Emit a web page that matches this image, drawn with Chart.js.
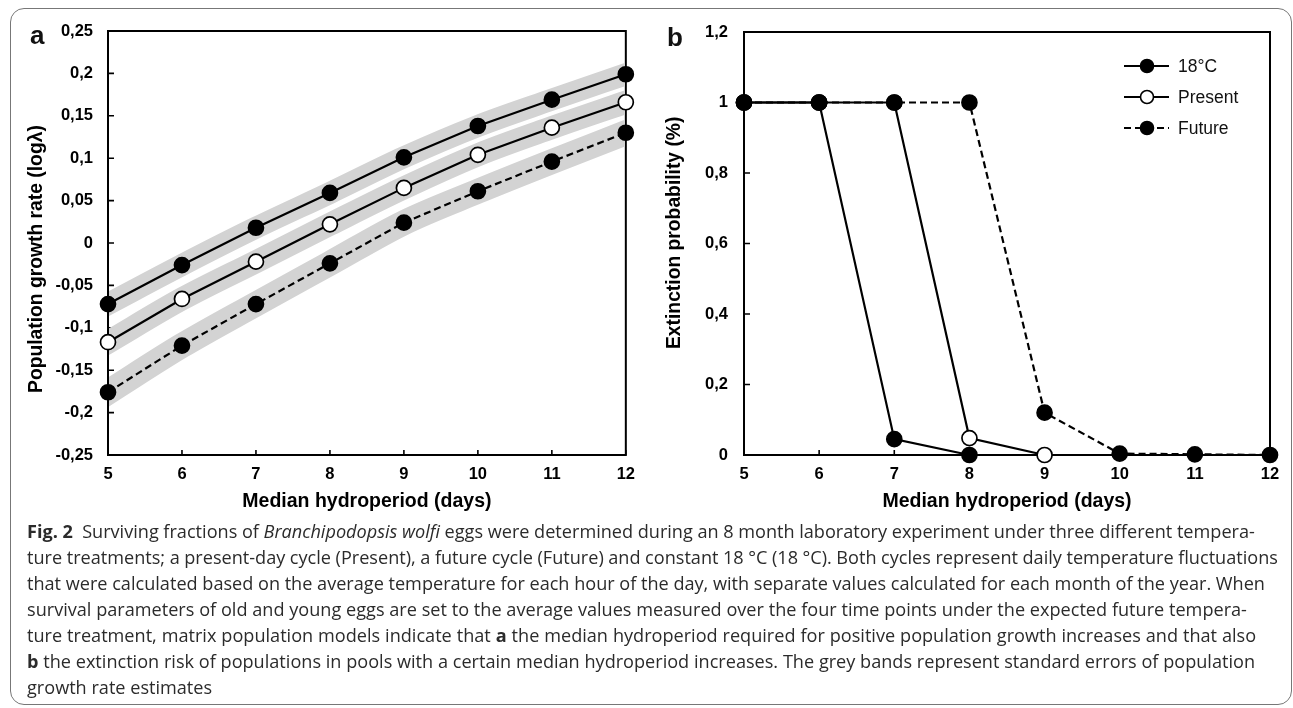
<!DOCTYPE html>
<html>
<head>
<meta charset="utf-8">
<script src="https://cdn.jsdelivr.net/npm/chart.js@4.4.1/dist/chart.umd.min.js"></script>
<style>
  html, body { margin: 0; padding: 0; background: #fff; }
  body { width: 1293px; height: 708px; position: relative; overflow: hidden; font-family: 'Liberation Sans', Arial, sans-serif; }
  .frame { position: absolute; left: 10px; top: 8px; width: 1282px; height: 697px; border: 1.5px solid #777; border-radius: 14px; box-sizing: border-box; }
  .panel { position: absolute; top: 0; height: 520px; }
  #wrapA { left: 0; width: 645px; }
  #wrapB { left: 645px; width: 648px; }
  .tag { position: absolute; font-weight: bold; font-size: 26px; line-height: 1; color: #111; }
  #caption { position: absolute; left: 27px; top: 518px; font-family: 'Open Sans', 'Noto Sans', sans-serif; font-size: 17px; color: #2b2b2b; }
  #caption div { height: 26px; line-height: 26px; white-space: nowrap; }
</style>
</head>
<body>
<div class="frame"></div>
<div class="panel" id="wrapA"><canvas id="chartA"></canvas></div>
<div class="panel" id="wrapB"><canvas id="chartB"></canvas></div>
<div class="tag" style="left:30px; top:22px;">a</div>
<div class="tag" style="left:667px; top:24px;">b</div>
<div id="caption">
  <div><span><b>Fig. 2</b>&nbsp; Surviving fractions of <i>Branchipodopsis wolfi</i> eggs were determined during an 8 month laboratory experiment under three different tempera-</span></div>
  <div><span>ture treatments; a present-day cycle (Present), a future cycle (Future) and constant 18 °C (18 °C). Both cycles represent daily temperature fluctuations</span></div>
  <div><span>that were calculated based on the average temperature for each hour of the day, with separate values calculated for each month of the year. When</span></div>
  <div><span>survival parameters of old and young eggs are set to the average values measured over the four time points under the expected future tempera-</span></div>
  <div><span>ture treatment, matrix population models indicate that <b>a</b> the median hydroperiod required for positive population growth increases and that also</span></div>
  <div><span><b>b</b> the extinction risk of populations in pools with a certain median hydroperiod increases. The grey bands represent standard errors of population</span></div>
  <div><span>growth rate estimates</span></div>
</div>
<script>
// Data
const days = [5, 6, 7, 8, 9, 10, 11, 12];

// panel a: population growth rate (log lambda)
const growth18 = [-0.072, -0.026, 0.018, 0.059, 0.101, 0.138, 0.169, 0.199];
const growthPresent = [-0.117, -0.066, -0.022, 0.022, 0.065, 0.104, 0.136, 0.166];
const growthFuture = [-0.176, -0.121, -0.072, -0.024, 0.024, 0.061, 0.096, 0.130];
const yTickLabelsA = ['-0,25', '-0,2', '-0,15', '-0,1', '-0,05', '0', '0,05', '0,1', '0,15', '0,2', '0,25'];

// panel b: extinction probability
const ext18 = [1, 1, 0.045, 0, null, null, null, null];
const extPresent = [1, 1, 1, 0.048, 0, null, null, null];
const extFuture = [1, 1, 1, 1, 0.12, 0.004, 0.002, 0];
const yTickLabelsB = ['0', '0,2', '0,4', '0,6', '0,8', '1', '1,2'];
const legendNames = ['18°C', 'Present', 'Future'];

Chart.defaults.font.family = "'Liberation Sans', Arial, sans-serif";
Chart.defaults.color = '#000';
Chart.defaults.animation = false;

// box around the plot area + short inward tick marks
const frameTicks = {
  id: 'frameTicks',
  beforeDatasetsDraw(chart) {
    const { ctx, chartArea: a, scales: { x, y } } = chart;
    ctx.save();
    ctx.strokeStyle = '#000';
    ctx.lineWidth = 2;
    ctx.strokeRect(a.left, a.top, a.right - a.left, a.bottom - a.top);
    ctx.lineWidth = 1.6;
    ctx.beginPath();
    x.ticks.forEach((t, i) => {
      const px = x.getPixelForTick(i);
      ctx.moveTo(px, a.bottom);
      ctx.lineTo(px, a.bottom - 5);
    });
    y.ticks.forEach((t, i) => {
      const py = y.getPixelForTick(i);
      ctx.moveTo(a.left, py);
      ctx.lineTo(a.left + 6, py);
    });
    ctx.stroke();
    ctx.restore();
  }
};

// legend of panel b (line + marker)
const legendB = {
  id: 'legendB',
  afterDraw(chart) {
    const ctx = chart.ctx;
    legendNames.forEach((name, i) => {
      const ds = chart.data.datasets.find(d => d.label === name);
      const y = 66 + i * 31;
      ctx.save();
      ctx.strokeStyle = '#000';
      ctx.lineWidth = 2;
      ctx.setLineDash(ds.borderDash || []);
      ctx.beginPath();
      ctx.moveTo(479, y);
      ctx.lineTo(524, y);
      ctx.stroke();
      ctx.setLineDash([]);
      ctx.beginPath();
      ctx.arc(502, y, 6.5, 0, Math.PI * 2);
      ctx.fillStyle = ds.pointBackgroundColor;
      ctx.fill();
      ctx.lineWidth = 1.6;
      ctx.stroke();
      ctx.fillStyle = '#111';
      ctx.font = "17.5px 'Liberation Sans', Arial, sans-serif";
      ctx.textBaseline = 'middle';
      ctx.fillText(name, 533, y + 1);
      ctx.restore();
    });
  }
};

function series(label, data, fill, dashed, order) {
  return {
    label: label,
    data: data,
    borderColor: '#000',
    borderWidth: 2.2,
    borderDash: dashed ? [7, 4] : [],
    pointRadius: 7.5,
    pointBorderWidth: 1.7,
    pointBackgroundColor: fill,
    pointBorderColor: '#000',
    tension: 0,
    spanGaps: false,
    clip: false,
    order: order
  };
}

function band(data, width) {
  return {
    label: 'band',
    data: data,
    borderColor: '#d3d3d3',
    borderWidth: width,
    borderCapStyle: 'square',
    pointRadius: 0,
    cubicInterpolationMode: 'monotone',
    clip: { left: -1, right: -1, top: -1, bottom: -1 },
    order: 10
  };
}

function axes(yMin, yMax, yStep, yLabels, yTitle, yWidth, yTickPad, yTitlePad) {
  return {
    x: {
      offset: false,
      grid: { display: false, drawTicks: false },
      border: { display: false },
      ticks: { padding: 10, font: { size: 16.5, weight: 'bold' }, maxRotation: 0 },
      title: { display: true, text: 'Median hydroperiod (days)', font: { size: 19.5, weight: 'bold' }, padding: { top: 0, bottom: 7 } },
      afterFit: s => { s.height = 65; }
    },
    y: {
      min: yMin, max: yMax,
      grid: { display: false, drawTicks: false },
      border: { display: false },
      ticks: { stepSize: yStep, padding: yTickPad, font: { size: 16.5, weight: 'bold' }, callback: (v, i) => yLabels[i] },
      title: { display: true, text: yTitle, font: { size: 19.3, weight: 'bold' }, padding: { top: yTitlePad, bottom: 0 } },
      afterFit: s => { s.width = yWidth; }
    }
  };
}

// rotated titles sit a little off-centre in the original; spaces nudge them
const titleA = 'Population growth rate (logλ)' + '\u00a0'.repeat(6);
const titleB = '\u00a0'.repeat(4) + 'Extinction probability (%)';

new Chart(document.getElementById('chartA'), {
  type: 'line',
  data: {
    labels: days,
    datasets: [
      series('18°C', growth18, '#000', false, 0),
      series('Present', growthPresent, '#fff', false, 1),
      series('Future', growthFuture, '#000', true, 2),
      band(growth18, 22),
      band(growthPresent, 23),
      band(growthFuture, 25)
    ]
  },
  options: {
    responsive: true,
    maintainAspectRatio: false,
    layout: { padding: { top: 31, right: 13, left: 0, bottom: 0 } },
    plugins: { legend: { display: false }, tooltip: { enabled: false } },
    scales: axes(-0.25, 0.25, 0.05, yTickLabelsA, titleA, 108, 15, 25)
  },
  plugins: [frameTicks]
});

new Chart(document.getElementById('chartB'), {
  type: 'line',
  data: {
    labels: days,
    datasets: [
      series('Future', extFuture, '#000', true, 0),
      series('18°C', ext18, '#000', false, 1),
      series('Present', extPresent, '#fff', false, 2)
    ]
  },
  options: {
    responsive: true,
    maintainAspectRatio: false,
    layout: { padding: { top: 32, right: 23, left: 0, bottom: 0 } },
    plugins: { legend: { display: false }, tooltip: { enabled: false } },
    scales: axes(0, 1.2, 0.2, yTickLabelsB, titleB, 99, 16, 18)
  },
  plugins: [frameTicks, legendB]
});

// caption: fit each line to the width it has in the figure
const lineEnds = [1255, 1278, 1265, 1247, 1256, 1255, null];
const cap = document.getElementById('caption');
const spans = [...cap.querySelectorAll('span')];
let ratio = 0, n = 0;
spans.forEach((sp, i) => {
  if (!lineEnds[i]) return;
  ratio += (lineEnds[i] - 27) / sp.getBoundingClientRect().width;
  n++;
});
cap.style.fontSize = (17 * ratio / n).toFixed(2) + 'px';
spans.forEach((sp, i) => {
  if (!lineEnds[i]) return;
  const w = sp.getBoundingClientRect().width;
  const gaps = sp.textContent.split(' ').length - 1;
  sp.style.wordSpacing = ((lineEnds[i] - 27 - w) / gaps).toFixed(2) + 'px';
});
</script>
</body>
</html>
